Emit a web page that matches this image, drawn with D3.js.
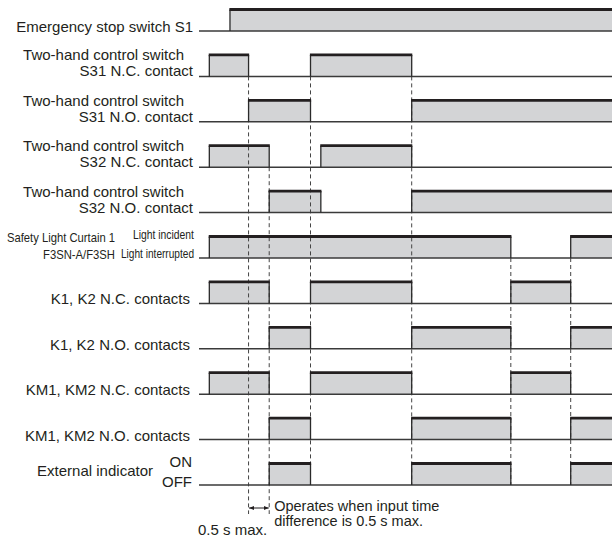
<!DOCTYPE html>
<html>
<head>
<meta charset="utf-8">
<script src="https://cdn.jsdelivr.net/npm/d3@7"></script>
<style>
  body { margin: 0; background: #fff; }
  text { font-family: "Liberation Sans", Arial, sans-serif; fill: #231f20; }
</style>
</head>
<body>
<svg id="chart" width="613" height="540"></svg>
<script>
// rows of the timing chart, top to bottom
const rows = ["S1", "S31 NC", "S31 NO", "S32 NC", "S32 NO", "Curtain",
  "K NC", "K NO", "KM NC", "KM NO", "Indicator"];

const rowLabels = [
  ["Emergency stop switch S1"],
  ["Two-hand control switch", "S31 N.C. contact"],
  ["Two-hand control switch", "S31 N.O. contact"],
  ["Two-hand control switch", "S32 N.C. contact"],
  ["Two-hand control switch", "S32 N.O. contact"],
  ["Safety Light Curtain 1", "F3SN-A/F3SH"],
  ["K1, K2 N.C. contacts"],
  ["K1, K2 N.O. contacts"],
  ["KM1, KM2 N.C. contacts"],
  ["KM1, KM2 N.O. contacts"],
  ["External indicator"]
];

// high / low state names shown next to some rows
const curtainStates = ["Light incident", "Light interrupted"];
const indicatorStates = ["ON", "OFF"];

// time in arbitrary units (0..100), intervals where the signal is high
const highIntervals = [
  [[7.5, 100]],
  [[2.5, 12], [27, 51.5]],
  [[12, 27], [51.5, 100]],
  [[2.5, 17], [29.5, 51.5]],
  [[17, 29.5], [51.5, 100]],
  [[2.5, 75.5], [90, 100]],
  [[2.5, 17], [27, 51.5], [75.5, 90]],
  [[17, 27], [51.5, 75.5], [90, 100]],
  [[2.5, 17], [27, 51.5], [75.5, 90]],
  [[17, 27], [51.5, 75.5], [90, 100]],
  [[17, 27], [51.5, 75.5], [90, 100]]
];

// dashed reference lines: time and the row they start from
const guideTimes = [12, 17, 27, 51.5, 75.5, 90];
const guideFrom = ["S31 NC", "S32 NC", "S31 NC", "S31 NC", "Curtain", "Curtain"];

const noteLeft = "0.5 s max.";
const noteRight = ["Operates when input time", "difference is 0.5 s max."];

const svg = d3.select("#chart");
const x = d3.scaleLinear().domain([0, 100]).range([199, 612]);
const y = d3.scalePoint().domain(rows).range([31, 485]);
const high = 21.5;
const tEnd = 100;

const signals = rows.map((r, i) => ({ row: r, intervals: highIntervals[i] }));
const pieces = signals.flatMap((s) => s.intervals.map(([a, b]) => ({ row: s.row, a, b })));

// gray fills
svg.append("g")
  .selectAll("rect")
  .data(pieces)
  .join("rect")
  .attr("x", (d) => x(d.a))
  .attr("y", (d) => y(d.row) - high)
  .attr("width", (d) => x(d.b) - x(d.a))
  .attr("height", high)
  .attr("fill", "#d3d4d6");

// dashed guides
svg.append("g")
  .selectAll("line")
  .data(guideTimes)
  .join("line")
  .attr("x1", (d) => x(d))
  .attr("x2", (d) => x(d))
  .attr("y1", (d, i) => y(guideFrom[i]))
  .attr("y2", (d, i) => (i < 2 ? 514 : y(rows[rows.length - 1])))
  .attr("stroke", "#444")
  .attr("stroke-width", 1)
  .attr("stroke-dasharray", "4,3");

// baselines
svg.append("g")
  .selectAll("line")
  .data(rows)
  .join("line")
  .attr("x1", x(0))
  .attr("x2", x(tEnd))
  .attr("y1", (d) => y(d))
  .attr("y2", (d) => y(d))
  .attr("stroke", "#3a3a3a")
  .attr("stroke-width", 1.5);

// rising / falling edges
const edges = pieces.flatMap((p) => [p.a, p.b].filter((t) => t < tEnd).map((t) => ({ row: p.row, t })));
svg.append("g")
  .selectAll("line")
  .data(edges)
  .join("line")
  .attr("x1", (d) => x(d.t))
  .attr("x2", (d) => x(d.t))
  .attr("y1", (d) => y(d.row) - high)
  .attr("y2", (d) => y(d.row))
  .attr("stroke", "#2a2a2a")
  .attr("stroke-width", 1.3);

// thick top lines
svg.append("g")
  .selectAll("line")
  .data(pieces)
  .join("line")
  .attr("x1", (d) => x(d.a) - 0.6)
  .attr("x2", (d) => Math.min(x(d.b) + 0.6, x(tEnd)))
  .attr("y1", (d) => y(d.row) - high)
  .attr("y2", (d) => y(d.row) - high)
  .attr("stroke", "#231f20")
  .attr("stroke-width", 2.8);

// row labels
const labels = svg.append("g").attr("font-size", 15);
rows.forEach((r, i) => {
  const lines = rowLabels[i];
  const yb = y(r);
  if (r === "Curtain") {
    labels.append("text").attr("x", 7).attr("y", yb - 16)
      .attr("font-size", 13).attr("textLength", 108).attr("lengthAdjust", "spacingAndGlyphs")
      .text(lines[0]);
    labels.append("text").attr("x", 115).attr("y", yb + 1).attr("text-anchor", "end")
      .attr("font-size", 13).attr("textLength", 72).attr("lengthAdjust", "spacingAndGlyphs")
      .text(lines[1]);
    labels.append("text").attr("x", 194).attr("y", yb - 19.5).attr("text-anchor", "end")
      .attr("font-size", 13).attr("textLength", 61).attr("lengthAdjust", "spacingAndGlyphs")
      .text(curtainStates[0]);
    labels.append("text").attr("x", 194).attr("y", yb).attr("text-anchor", "end")
      .attr("font-size", 13).attr("textLength", 73).attr("lengthAdjust", "spacingAndGlyphs")
      .text(curtainStates[1]);
  } else if (r === "Indicator") {
    labels.append("text").attr("x", 153).attr("y", yb - 9).attr("text-anchor", "end").text(lines[0]);
    labels.append("text").attr("x", 192).attr("y", yb - 18.5).attr("text-anchor", "end").text(indicatorStates[0]);
    labels.append("text").attr("x", 192).attr("y", yb + 1.5).attr("text-anchor", "end").text(indicatorStates[1]);
  } else if (lines.length === 2) {
    labels.append("text").attr("x", 184).attr("y", yb - 16).attr("text-anchor", "end").text(lines[0]);
    labels.append("text").attr("x", 193).attr("y", yb).attr("text-anchor", "end").text(lines[1]);
  } else {
    labels.append("text").attr("x", i === 0 ? 193 : 190).attr("y", yb + 1).attr("text-anchor", "end").text(lines[0]);
  }
});

// 0.5 s annotation
const defs = svg.append("defs");
defs.append("marker")
  .attr("id", "arrow")
  .attr("viewBox", "0 0 10 10")
  .attr("refX", 10).attr("refY", 5)
  .attr("markerWidth", 5).attr("markerHeight", 5)
  .attr("markerUnits", "userSpaceOnUse")
  .attr("orient", "auto-start-reverse")
  .append("path").attr("d", "M0,1 L10,5 L0,9 Z").attr("fill", "#231f20");

svg.append("line")
  .attr("x1", x(guideTimes[0]) + 0.5)
  .attr("x2", x(guideTimes[1]) - 0.5)
  .attr("y1", 508).attr("y2", 508)
  .attr("stroke", "#231f20").attr("stroke-width", 1)
  .attr("marker-start", "url(#arrow)")
  .attr("marker-end", "url(#arrow)");

svg.append("text")
  .attr("x", x(guideTimes[1]) - 2).attr("y", 535)
  .attr("text-anchor", "end").attr("font-size", 15)
  .text(noteLeft);

svg.append("g").attr("font-size", 14.5)
  .selectAll("text")
  .data(noteRight)
  .join("text")
  .attr("x", x(guideTimes[1]) + 5)
  .attr("y", (d, i) => 511 + i * 14.5)
  .text((d) => d);
</script>
</body>
</html>
